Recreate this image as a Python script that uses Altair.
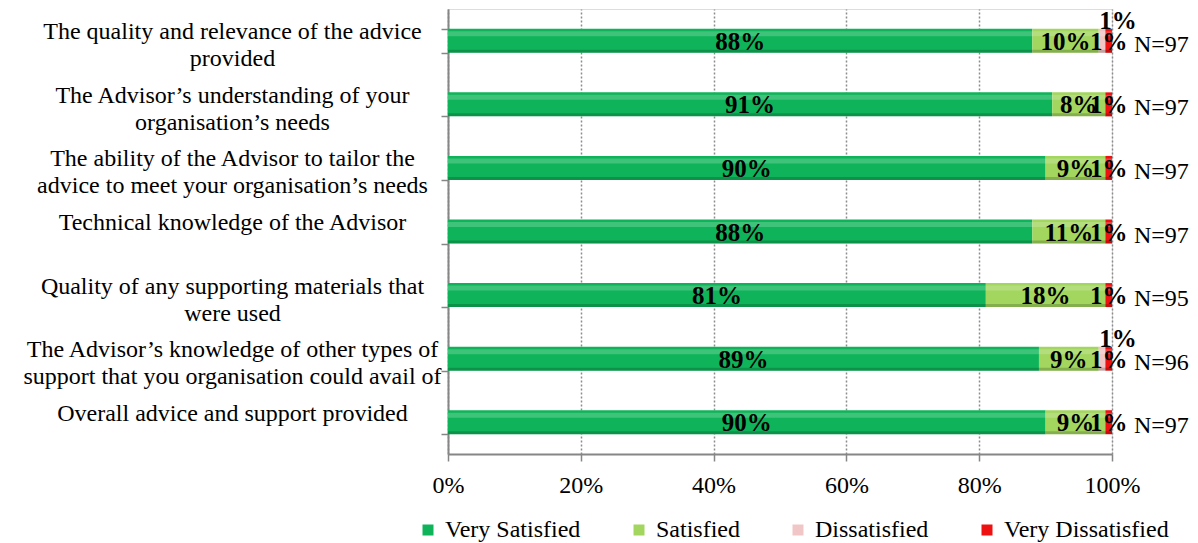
import altair as alt
import pandas as pd

items = [
    "The quality and relevance of the advice|provided",
    "The Advisor’s understanding of your|organisation’s needs",
    "The ability of the Advisor to tailor the|advice to meet your organisation’s needs",
    "Technical knowledge of the Advisor",
    "Quality of any supporting materials that|were used",
    "The Advisor’s knowledge of other types of|support that you organisation could avail of",
    "Overall advice and support provided",
]
categories = ["Very Satisfied", "Satisfied", "Dissatisfied", "Very Dissatisfied"]
very_satisfied = [88, 91, 90, 88, 81, 89, 90]
satisfied = [10, 8, 9, 11, 18, 9, 9]
dissatisfied = [1, 0, 0, 0, 0, 1, 0]
very_dissatisfied = [1, 1, 1, 1, 1, 1, 1]
n_labels = ["N=97", "N=97", "N=97", "N=97", "N=95", "N=96", "N=97"]

series = [very_satisfied, satisfied, dissatisfied, very_dissatisfied]
rows = []
for ci, (cat, vals) in enumerate(zip(categories, series)):
    for item, v in zip(items, vals):
        rows.append({"item": item, "cat": cat, "order": ci, "value": v})
df = pd.DataFrame(rows)
ndf = pd.DataFrame({"item": items, "n": n_labels})

fill_colors = ["#0FB45A", "#A2D65E", "#F0C6C6", "#EE1111"]
FONT = "Liberation Serif"

y_enc = alt.Y("item:N", sort=items, title=None,
              scale=alt.Scale(paddingInner=0.62, paddingOuter=0.31),
              axis=alt.Axis(labelExpr="split(datum.label, '|')", labelAlign="center",
                            labelPadding=209, labelLimit=500, labelLineHeight=27,
                            labelOffset=-9,
                            labelFont=FONT, tickBand="extent", grid=False))

base = alt.Chart(df).transform_stack(
    stack="value", groupby=["item"], as_=["v0", "v1"],
    sort=[alt.SortField("order", order="ascending")]
).transform_calculate(mid="(datum.v0 + datum.v1) / 2", label="datum.value + '%'")

x_enc = alt.X("v0:Q", title=None,
              scale=alt.Scale(domain=[0, 100], nice=False),
              axis=alt.Axis(values=[0, 20, 40, 60, 80, 100],
                            labelExpr="datum.value + '%'",
                            labelFlush=False, labelPadding=12, labelFont=FONT,
                            grid=True, gridColor="#8c8c8c", gridDash=[2, 2],
                            gridWidth=1.5))

bars = base.mark_bar(size=24).encode(
    y=y_enc,
    x=x_enc,
    x2="v1:Q",
    color=alt.Color("cat:N", sort=categories,
                    scale=alt.Scale(domain=categories, range=fill_colors),
                    legend=alt.Legend(title=None, orient="none", direction="horizontal",
                                      columns=4, gridAlign="each", columnPadding=46,
                                      legendX=-32, legendY=509, symbolType="square",
                                      symbolSize=121, symbolStrokeWidth=0, labelOffset=5,
                                      labelFont=FONT, labelFontSize=24, labelColor="#000",
                                      padding=0)),
)

highlight = base.mark_bar(size=5, yOffset=-7, color="#ffffff", opacity=0.2).encode(
    y=alt.Y("item:N", sort=items), x="v0:Q", x2="v1:Q"
)
shade = base.mark_bar(size=3, yOffset=10.5, color="#000000", opacity=0.18).encode(
    y=alt.Y("item:N", sort=items), x="v0:Q", x2="v1:Q"
)

labels = base.transform_filter(
    "datum.value > 0 && datum.cat != 'Dissatisfied'"
).mark_text(font=FONT, fontSize=25, fontWeight="bold", color="#000",
            baseline="middle", dy=1).encode(
    y=alt.Y("item:N", sort=items), x="mid:Q", text="label:N"
)

labels_up = base.transform_filter(
    "datum.value > 0 && datum.cat == 'Dissatisfied'"
).mark_text(font=FONT, fontSize=25, fontWeight="bold", color="#000",
            baseline="middle", dx=16, dy=-20).encode(
    y=alt.Y("item:N", sort=items), x="mid:Q", text="label:N"
)

nlab = alt.Chart(ndf).mark_text(font=FONT, fontSize=24, color="#000", align="left",
                                baseline="middle", dx=22, dy=4).encode(
    y=alt.Y("item:N", sort=items), x=alt.datum(100), text="n:N"
)

chart = alt.layer(bars, highlight, shade, labels, labels_up, nlab).properties(
    width=664, height=445,
    autosize=alt.AutoSizeParams(type="none"),
    padding={"left": 448, "top": 9, "right": 86, "bottom": 89},
).configure_view(stroke=None).configure(
    background="white", font=FONT,
).configure_axis(
    labelFont=FONT, labelFontSize=24, labelColor="#000", labelFlush=False,
    tickSize=7, tickColor="#868686", tickWidth=1.5,
    domainColor="#868686", domainWidth=2,
).configure_legend(
    labelFont=FONT, labelFontSize=24, labelColor="#000", labelLimit=400,
)

chart.save("out.html", embed_options={"renderer": "svg", "actions": False})
